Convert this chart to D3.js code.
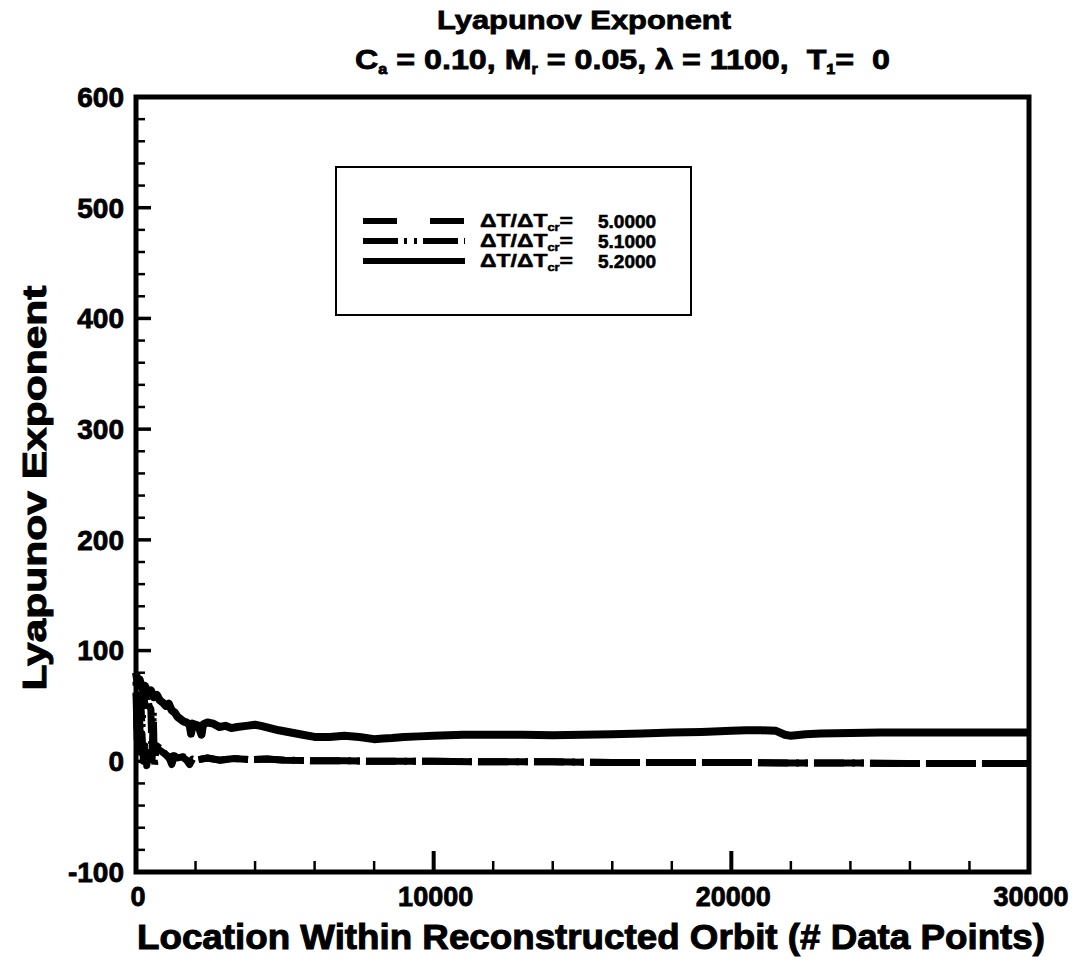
<!DOCTYPE html>
<html>
<head>
<meta charset="utf-8">
<script src="https://cdn.jsdelivr.net/npm/d3@7"></script>
<style>
  body { margin: 0; background: #fff; }
  text { font-family: "Liberation Sans", Arial, sans-serif; font-weight: bold; fill: #000; }
</style>
</head>
<body>
<div id="chart"></div>
<script>
// values
const xTicks = [0, 10000, 20000, 30000];
const yTicks = [-100, 0, 100, 200, 300, 400, 500, 600];

// tail shared by the 5.0 and 5.1 runs (they coincide after ~2000 points)
const tailX = [2000, 2400, 2800, 3300, 3800, 4400, 5000, 6000, 7000, 8000, 10000, 12000, 14000, 16000, 18000, 20000, 22000, 24000, 26000, 28000, 30000];
const tailY = [1, 3, 1, 2.5, 1.5, 2, 1, 0.5, 0.5, 0, 0, -0.5, -0.5, -1, -1, -1, -1.5, -1.5, -2, -2, -2];

const head50X = [0, 30, 60, 90, 120, 160, 200, 250, 300, 360, 420, 500, 600, 700, 800, 900, 1000, 1100, 1200, 1300, 1400, 1550, 1700, 1800, 1900];
const head50Y = [62, 30, 50, 15, 38, 8, 25, 0, 14, -4, 8, 3, 10, 14, 12, 9, 6, 4, -3, 5, 3, 4, 1, -3, 2];

const head51X = [0, 40, 80, 120, 160, 200, 260, 320, 380, 440, 500, 540, 580, 620, 660, 720, 800, 900, 1000, 1100, 1250, 1400, 1600, 1800];
const head51Y = [72, 20, 60, 10, 55, 30, 62, 45, 58, 50, 47, 2, 44, -5, 8, 12, 10, 8, 6, 3, 5, 2, 4, 1];

const run52X = [0, 60, 120, 200, 300, 400, 500, 600, 700, 800, 900, 1000, 1100, 1200, 1300, 1400, 1500, 1600, 1700, 1800, 1850, 1900, 2000, 2100, 2200, 2250, 2300, 2400, 2600, 2800, 3000, 3200, 3400, 3700, 4000, 4200, 4500, 4800, 5200, 5600, 6000, 6500, 7000, 7500, 8000, 8300, 8600, 9000, 9500, 10000, 10500, 11000, 11500, 12000, 13000, 14000, 15000, 16000, 17000, 18000, 19000, 20000, 20500, 21000, 21500, 21800, 22000, 22500, 23000, 24000, 25000, 26000, 27000, 28000, 29000, 30000];
const run52Y = [80, 70, 74, 66, 68, 62, 64, 58, 60, 55, 53, 50, 52, 46, 44, 40, 38, 36, 35, 33, 25, 34, 33, 32, 24, 33, 34, 35, 34, 31, 32, 30, 31, 32, 33, 32, 30, 28, 26, 24, 22, 22, 23, 22, 20, 20.5, 21, 22, 22.5, 23, 23.5, 24, 24, 24, 24, 23.5, 24, 24.5, 25, 26, 26.5, 27.5, 28, 28, 27.5, 24, 23, 24.5, 25, 25.5, 26, 26, 26, 26, 26, 26];

const legendLabels = ["5.0000", "5.1000", "5.2000"];

const W = 1081, H = 968;
const frame = { left: 136, right: 1029, top: 97, bottom: 872 };

const pts = (xs, ys) => xs.map((v, i) => [v, ys[i]]);
const series = [
  { name: legendLabels[0], data: pts(head50X.concat(tailX), head50Y.concat(tailY)), dash: "50,6", legendDash: "34,33", width: 7 },
  { name: legendLabels[1], data: pts(head51X.concat(tailX), head51Y.concat(tailY)), dash: "30,8,3,6,3,6", legendDash: "35,6,3,7,3,6", width: 7 },
  { name: legendLabels[2], data: pts(run52X, run52Y), dash: null, legendDash: null, width: 8 }
];

const svg = d3.select("#chart").append("svg")
  .attr("width", W).attr("height", H);
svg.append("rect").attr("width", W).attr("height", H).attr("fill", "#fff");

const x = d3.scaleLinear().domain([0, 30000]).range([frame.left, frame.right]);
const y = d3.scaleLinear().domain([-100, 600]).range([frame.bottom, frame.top]);

// curves
const line = d3.line().x(d => x(d[0])).y(d => y(d[1]));
const paths = series.map(s => svg.append("path")
  .datum(s.data)
  .attr("d", line)
  .attr("fill", "none")
  .attr("stroke", "#000")
  .attr("stroke-width", s.width)
  .attr("stroke-linejoin", "round")
  .attr("stroke-dasharray", s.dash));

// line up the two broken patterns on the shared tail so they read as one dashed line
const L0 = paths[0].node().getTotalLength();
const L1 = paths[1].node().getTotalLength();
paths[1].attr("stroke-dashoffset", L0 - L1);

// ticks point inward, only on left and bottom
const minorX = d3.range(0, 30001, 2000).filter(v => v % 10000 !== 0);
const minorY = d3.range(-100, 601, 20).filter(v => v % 100 !== 0);

const ticks = svg.append("g").attr("stroke", "#000");
ticks.selectAll(".ym").data(yTicks).join("line")
  .attr("x1", frame.left).attr("x2", frame.left + 15)
  .attr("y1", d => y(d)).attr("y2", d => y(d)).attr("stroke-width", 3.5);
ticks.selectAll(".yn").data(minorY).join("line")
  .attr("x1", frame.left).attr("x2", frame.left + 9)
  .attr("y1", d => y(d)).attr("y2", d => y(d)).attr("stroke-width", 2.5);
ticks.selectAll(".xm").data(xTicks).join("line")
  .attr("x1", d => x(d)).attr("x2", d => x(d))
  .attr("y1", frame.bottom).attr("y2", frame.bottom - 21).attr("stroke-width", 4);
ticks.selectAll(".xn").data(minorX).join("line")
  .attr("x1", d => x(d)).attr("x2", d => x(d))
  .attr("y1", frame.bottom).attr("y2", frame.bottom - 11).attr("stroke-width", 2.5);

const tickText = sel => sel.attr("font-size", 28).attr("stroke", "#000").attr("stroke-width", 0.8);
svg.append("g").selectAll("text").data(yTicks).join("text")
  .attr("x", frame.left - 12).attr("y", d => y(d)).attr("dy", "0.35em")
  .attr("text-anchor", "end")
  .call(tickText)
  .text(d => String(d));
svg.append("g").selectAll("text").data(xTicks).join("text")
  .attr("x", d => x(d) + 2).attr("y", frame.bottom + 34)
  .attr("text-anchor", "middle")
  .call(tickText)
  .attr("font-size", 27)
  .text(d => String(d));

// frame
svg.append("rect")
  .attr("x", frame.left).attr("y", frame.top)
  .attr("width", frame.right - frame.left).attr("height", frame.bottom - frame.top)
  .attr("fill", "none").attr("stroke", "#000").attr("stroke-width", 5);

// titles
svg.append("text")
  .attr("x", 437).attr("y", 29)
  .attr("font-size", 26).attr("textLength", 294).attr("lengthAdjust", "spacingAndGlyphs")
  .attr("stroke", "#000").attr("stroke-width", 0.8)
  .text("Lyapunov Exponent");

const t2 = svg.append("text")
  .attr("x", 355).attr("y", 69)
  .attr("font-size", 28).attr("textLength", 535).attr("lengthAdjust", "spacingAndGlyphs")
  .attr("stroke", "#000").attr("stroke-width", 0.8)
  .style("white-space", "pre");
[["C", false], ["a", true], [" = 0.10, M", false], ["r", true], [" = 0.05, \u03BB = 1100,  T", false], ["1", true], ["=  0", false]]
  .forEach(([s, sub]) => {
    const ts = t2.append("tspan").text(s);
    if (sub) ts.attr("font-size", 14).attr("baseline-shift", "-35%");
  });

svg.append("text")
  .attr("transform", "translate(46,488) rotate(-90)")
  .attr("text-anchor", "middle")
  .attr("font-size", 34).attr("textLength", 405).attr("lengthAdjust", "spacingAndGlyphs")
  .attr("stroke", "#000").attr("stroke-width", 1)
  .text("Lyapunov Exponent");

svg.append("text")
  .attr("x", 137).attr("y", 949)
  .attr("font-size", 35).attr("textLength", 908).attr("lengthAdjust", "spacingAndGlyphs")
  .attr("stroke", "#000").attr("stroke-width", 1)
  .text("Location Within Reconstructed Orbit (# Data Points)");

// legend
const lg = svg.append("g");
lg.append("rect")
  .attr("x", 336).attr("y", 167).attr("width", 355).attr("height", 148)
  .attr("fill", "#fff").attr("stroke", "#000").attr("stroke-width", 2);

const rowY = [221, 241, 261];
series.forEach((s, i) => {
  lg.append("line")
    .attr("x1", 363).attr("x2", 465).attr("y1", rowY[i]).attr("y2", rowY[i])
    .attr("stroke", "#000").attr("stroke-width", 6)
    .attr("stroke-dasharray", s.legendDash);
  const lab = lg.append("text")
    .attr("x", 480).attr("y", rowY[i] + 6)
    .attr("font-size", 18).attr("textLength", 93).attr("lengthAdjust", "spacingAndGlyphs")
    .attr("stroke", "#000").attr("stroke-width", 0.5);
  lab.append("tspan").text("\u0394T/\u0394T");
  lab.append("tspan").text("cr").attr("font-size", 10).attr("baseline-shift", "-35%");
  lab.append("tspan").text("=");
  lg.append("text")
    .attr("x", 598).attr("y", rowY[i] + 7)
    .attr("font-size", 19).attr("stroke", "#000").attr("stroke-width", 0.6)
    .text(s.name);
});
</script>
</body>
</html>
